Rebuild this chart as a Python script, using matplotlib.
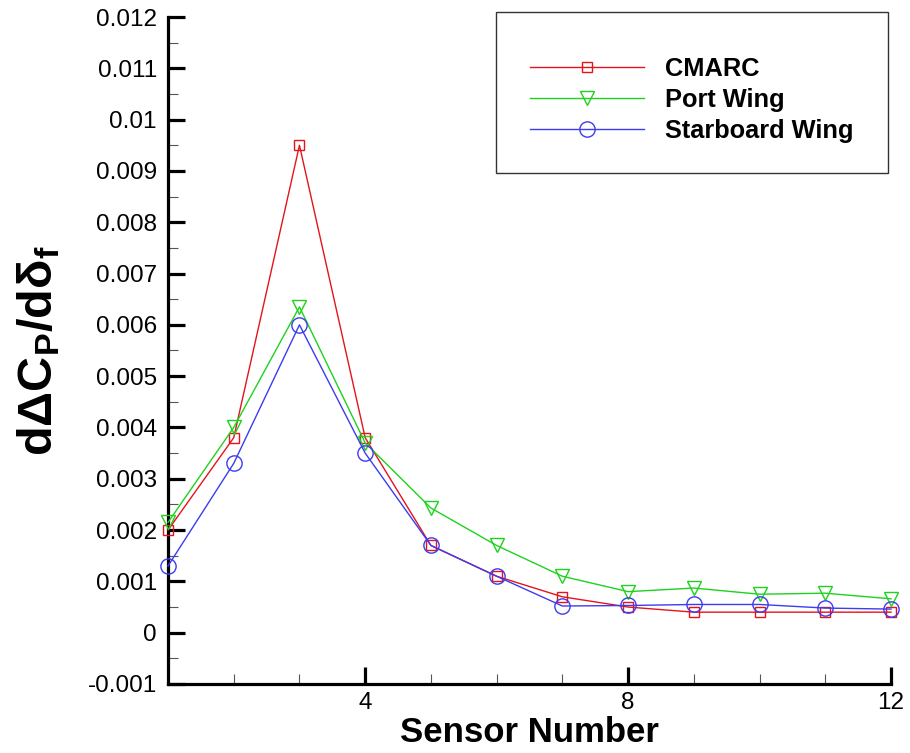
import matplotlib
matplotlib.use("Agg")
import matplotlib.pyplot as plt
from matplotlib.ticker import MultipleLocator, FixedLocator
from matplotlib.patches import Rectangle

plt.rcParams['font.family'] = ['Liberation Sans', 'DejaVu Sans']
plt.rcParams['mathtext.fontset'] = 'custom'
plt.rcParams['mathtext.rm'] = 'Liberation Sans'
plt.rcParams['mathtext.bf'] = 'Liberation Sans:bold'
plt.rcParams['mathtext.it'] = 'Liberation Sans:italic'

sensors = [1, 2, 3, 4, 5, 6, 7, 8, 9, 10, 11, 12]
cmarc = [0.0020, 0.0038, 0.0095, 0.0038, 0.0017, 0.0011, 0.0007, 0.0005, 0.0004, 0.0004, 0.0004, 0.0004]
port_wing = [0.00215, 0.0040, 0.00635, 0.0037, 0.00243, 0.0017, 0.0011, 0.0008, 0.00087, 0.00075, 0.00077, 0.00066]
starboard_wing = [0.0013, 0.0033, 0.0060, 0.0035, 0.0017, 0.0011, 0.00052, 0.00053, 0.00055, 0.00055, 0.00048, 0.00046]
x_ticks = [4, 8, 12]
y_ticks = [-0.001, 0, 0.001, 0.002, 0.003, 0.004, 0.005, 0.006, 0.007, 0.008, 0.009, 0.01, 0.011, 0.012]
y_tick_labels = ['-0.001', '0', '0.001', '0.002', '0.003', '0.004', '0.005', '0.006',
                 '0.007', '0.008', '0.009', '0.01', '0.011', '0.012']

W, H = 910, 753
fig = plt.figure(figsize=(W/100, H/100), dpi=100)
ax = fig.add_axes([168/W, 1-684/H, (891-168)/W, (684-17)/H])

red, green, blue = '#e3141c', '#1ed21e', '#3c3cf0'
ax.plot(sensors, cmarc, color=red, lw=1.0, marker='s', ms=7.5, mfc='none', mec=red, mew=1.0, label='CMARC', clip_on=False, zorder=3)
ax.plot(sensors, port_wing, color=green, lw=1.0, marker='v', ms=9.5, mfc='none', mec=green, mew=1.0, label='Port Wing', clip_on=False, zorder=3)
ax.plot(sensors, starboard_wing, color=blue, lw=1.0, marker='o', ms=11, mfc='none', mec=blue, mew=1.0, label='Starboard Wing', clip_on=False, zorder=3)

ax.set_xlim(1, 12)
ax.set_ylim(-0.001, 0.012)
ax.xaxis.set_major_locator(FixedLocator(x_ticks))
ax.xaxis.set_minor_locator(MultipleLocator(1))
ax.set_yticks(y_ticks)
ax.set_yticklabels(y_tick_labels)
ax.yaxis.set_minor_locator(MultipleLocator(0.0005))

for s in ['top', 'right']:
    ax.spines[s].set_visible(False)
for s in ['left', 'bottom']:
    ax.spines[s].set_linewidth(2.3)

ax.tick_params(axis='both', which='major', direction='in', length=12, width=2.3, labelsize=17.5, pad=6)
ax.tick_params(axis='both', which='minor', direction='in', length=7, width=0.8, color='#555555')
ax.tick_params(axis='y', which='major', pad=8)

ax.set_xlabel('Sensor Number', fontsize=25, fontweight='bold', labelpad=1)
ax.set_ylabel(r'$\mathbf{d\Delta C_P/d\delta_f}$', fontsize=35, labelpad=18)

fig.patches.append(Rectangle((496/W, 1-173/H), (888-496)/W, (173-12)/H, transform=fig.transFigure,
                             fill=False, edgecolor='#333333', lw=1.0))
leg = ax.legend(loc='center left', bbox_to_anchor=(530/W, 1-100/H), bbox_transform=fig.transFigure,
                prop={'weight': 'bold', 'size': 18.3}, frameon=False,
                handlelength=4.5, handletextpad=0.8,
                borderpad=0, labelspacing=0.28, borderaxespad=0)

fig.savefig('out.png', dpi=100)
